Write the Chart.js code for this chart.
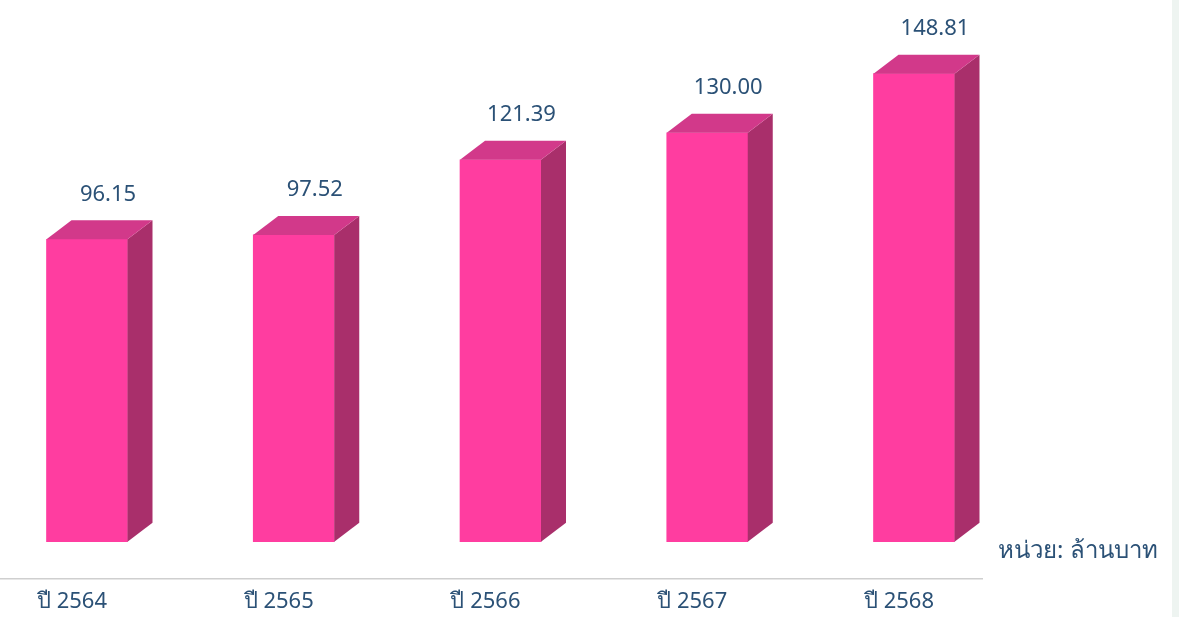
<!DOCTYPE html>
<html>
<head>
<meta charset="utf-8">
<script src="https://cdn.jsdelivr.net/npm/chart.js@4"></script>
<style>
  body { margin: 0; background: #fff; }
  #wrap { position: relative; width: 1179px; height: 617px; }
  #edge { position: absolute; right: 0; top: 0; width: 7px; height: 617px; background: #eef4f1; }
</style>
</head>
<body>
<div id="wrap">
  <canvas id="budget" width="1179" height="617"></canvas>
  <div id="edge"></div>
</div>
<script>
// Budget per year (million baht)
const years = ['ปี 2564', 'ปี 2565', 'ปี 2566', 'ปี 2567', 'ปี 2568'];
const values = [96.15, 97.52, 121.39, 130.00, 148.81];
const unitLabel = 'หน่วย: ล้านบาท';

const textColor = '#2b5176';
const depthX = 25;
const depthY = -19;

// draws the top and side faces so the bars look 3D, plus the value labels
const bar3d = {
  id: 'bar3d',
  afterDatasetsDraw(chart) {
    const ctx = chart.ctx;
    const meta = chart.getDatasetMeta(0);
    ctx.save();
    meta.data.forEach((bar, i) => {
      const left = bar.x - bar.width / 2;
      const right = bar.x + bar.width / 2;
      // side
      ctx.fillStyle = '#a92f6b';
      ctx.beginPath();
      ctx.moveTo(right, bar.y);
      ctx.lineTo(right + depthX, bar.y + depthY);
      ctx.lineTo(right + depthX, bar.base + depthY);
      ctx.lineTo(right, bar.base);
      ctx.closePath();
      ctx.fill();
      // top
      ctx.fillStyle = '#d2398a';
      ctx.beginPath();
      ctx.moveTo(left, bar.y);
      ctx.lineTo(left + depthX, bar.y + depthY);
      ctx.lineTo(right + depthX, bar.y + depthY);
      ctx.lineTo(right, bar.y);
      ctx.closePath();
      ctx.fill();
      // value
      ctx.fillStyle = textColor;
      ctx.font = '22px "Noto Sans", sans-serif';
      ctx.textAlign = 'center';
      ctx.textBaseline = 'middle';
      ctx.fillText(values[i].toFixed(2), bar.x + 21, bar.y - 45);
    });

    // baseline under the bars
    const zero = chart.scales.y.getPixelForValue(0);
    ctx.strokeStyle = '#cfcfcf';
    ctx.lineWidth = 1.5;
    ctx.beginPath();
    ctx.moveTo(0, zero + 37);
    ctx.lineTo(983, zero + 37);
    ctx.stroke();

    // unit
    ctx.fillStyle = textColor;
    ctx.font = '24px "Noto Sans", sans-serif';
    ctx.textAlign = 'left';
    ctx.textBaseline = 'middle';
    ctx.fillText(unitLabel, chart.chartArea.right + 84, zero + 10);
    ctx.restore();
  }
};

new Chart(
  document.getElementById('budget'),
  {
    type: 'bar',
    plugins: [bar3d],
    data: {
      labels: years,
      datasets: [
        {
          data: values,
          backgroundColor: '#ff3da0',
          barThickness: 81,
          clip: false
        }
      ]
    },
    options: {
      responsive: false,
      animation: false,
      layout: {
        padding: { left: 87, right: 265, top: 7, bottom: 0 }
      },
      plugins: {
        legend: { display: false },
        tooltip: { enabled: false }
      },
      scales: {
        x: {
          offset: false,
          grid: { display: false, drawTicks: false },
          border: { display: false },
          ticks: {
            color: textColor,
            font: { size: 22, family: '"Noto Sans", sans-serif' },
            padding: 2,
            labelOffset: -15,
            maxRotation: 0
          }
        },
        y: {
          display: false,
          min: -14.3,
          max: 170
        }
      }
    }
  }
);
</script>
</body>
</html>
